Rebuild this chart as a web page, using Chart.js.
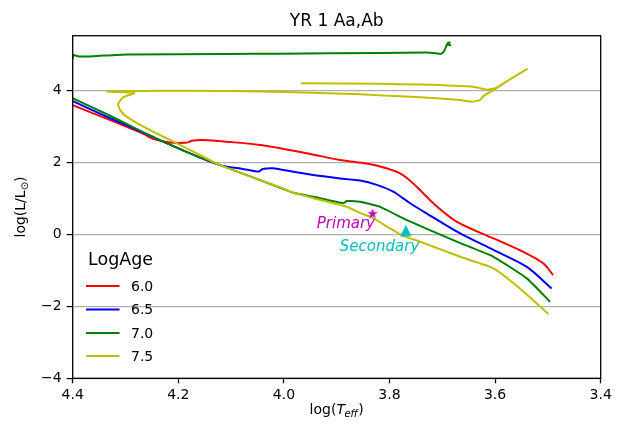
<!DOCTYPE html>
<html>
<head>
<meta charset="utf-8">
<script src="https://cdn.jsdelivr.net/npm/chart.js@4.4.1/dist/chart.umd.min.js"></script>
<style>
body { margin: 0; background: #fff; }
#wrap { width: 630px; height: 427px; }
</style>
</head>
<body>
<div id="wrap"><canvas id="hr" width="630" height="427"></canvas></div>
<script>
// isochrones, log Teff / log L
var ages = ['6.0', '6.5', '7.0', '7.5'];
var colors = ['#ff0000', '#0000ff', '#008000', '#bfbf00'];
var smooth = [0.3, 0.3, 0.15, 0.15];

var teff60 = [3.490, 3.509, 3.547, 3.603, 3.673, 3.717, 3.755, 3.780, 3.818, 3.856, 3.894, 3.950, 4.007, 4.045, 4.100, 4.153, 4.175, 4.180, 4.187, 4.216, 4.248, 4.266, 4.329, 4.400, 4.420];
var lum60  = [-1.13, -0.80, -0.48, -0.11, 0.36, 0.87, 1.42, 1.70, 1.89, 2.00, 2.07, 2.24, 2.40, 2.49, 2.57, 2.63, 2.61, 2.57, 2.55, 2.56, 2.66, 2.80, 3.18, 3.60, 3.72];

var teff65 = [3.493, 3.540, 3.603, 3.666, 3.730, 3.761, 3.793, 3.824, 3.856, 3.894, 3.950, 4.007, 4.021, 4.040, 4.048, 4.080, 4.121, 4.180, 4.234, 4.266, 4.330, 4.400, 4.420];
var lum65  = [-1.50, -0.90, -0.43, 0.03, 0.59, 0.87, 1.19, 1.38, 1.50, 1.56, 1.67, 1.81, 1.84, 1.82, 1.75, 1.83, 1.93, 2.27, 2.62, 2.83, 3.24, 3.71, 3.84];

var teff70 = [3.496, 3.540, 3.603, 3.666, 3.717, 3.767, 3.818, 3.856, 3.881, 3.887, 3.944, 3.982, 4.007, 4.050, 4.121, 4.180, 4.234, 4.266, 4.330, 4.400, 4.420, 4.500, 4.410, 4.400, 4.399, 4.386, 4.361, 4.298, 4.108, 4.007, 3.818, 3.730, 3.712, 3.704, 3.699, 3.695, 3.692, 3.690, 3.686, 3.690, 3.683];
var lum70  = [-1.87, -1.22, -0.62, -0.24, 0.08, 0.40, 0.77, 0.91, 0.93, 0.87, 1.05, 1.16, 1.30, 1.54, 1.93, 2.27, 2.62, 2.84, 3.31, 3.79, 3.92, 4.40, 4.82, 4.90, 4.99, 4.95, 4.96, 5.01, 5.02, 5.03, 5.05, 5.06, 5.04, 5.02, 5.06, 5.15, 5.26, 5.32, 5.34, 5.29, 5.26];

var teff75 = [3.499, 3.553, 3.603, 3.666, 3.742, 3.774, 3.799, 3.830, 3.856, 3.881, 3.944, 3.982, 4.007, 4.121, 4.180, 4.216, 4.266, 4.300, 4.310, 4.314, 4.307, 4.298, 4.288, 4.283, 4.300, 4.336, 4.300, 4.235, 4.108, 3.980, 3.856, 3.818, 3.742, 3.666, 3.644, 3.629, 3.622, 3.603, 3.578, 3.540, 3.575, 3.598, 3.616, 3.641, 3.742, 3.818, 3.968];
var lum75  = [-2.21, -1.50, -0.94, -0.62, -0.20, -0.04, 0.17, 0.45, 0.60, 0.77, 1.01, 1.16, 1.31, 1.93, 2.37, 2.63, 3.00, 3.30, 3.46, 3.62, 3.79, 3.86, 3.90, 3.94, 3.96, 3.97, 3.985, 4.00, 3.99, 3.96, 3.90, 3.87, 3.82, 3.74, 3.69, 3.74, 3.85, 4.02, 4.26, 4.60, 4.29, 4.08, 4.03, 4.11, 4.17, 4.19, 4.21];

var teffs = [teff60, teff65, teff70, teff75];
var lums = [lum60, lum65, lum70, lum75];

// the two stars
var starNames = ['Primary', 'Secondary'];
var starTeff = [3.832, 3.769];
var starLum = [0.59, 0.11];
var starColors = ['#bf00bf', '#00bfbf'];
var labelTeff = [3.8275, 3.7436];
var labelLum = [0.18, -0.45];

var xTicks = [4.4, 4.2, 4.0, 3.8, 3.6, 3.4];
var yTicks = [-4, -2, 0, 2, 4];

var FONT = "'DejaVu Sans', sans-serif";

function makeMarker(shape, color) {
    var c = document.createElement('canvas');
    c.width = 16; c.height = 16;
    var g = c.getContext('2d');
    g.fillStyle = color;
    g.beginPath();
    if (shape == 'star') {
        for (var i = 0; i < 10; i++) {
            var r = i % 2 == 0 ? 5.6 : 5.6 * 0.382;
            var a = -Math.PI / 2 + i * Math.PI / 5;
            var px = 8 + r * Math.cos(a), py = 8.5 + r * Math.sin(a);
            if (i == 0) g.moveTo(px, py); else g.lineTo(px, py);
        }
    } else {
        g.moveTo(8, 2.2);
        g.lineTo(2.3, 13.8);
        g.lineTo(13.7, 13.8);
    }
    g.closePath();
    g.fill();
    return c;
}
var markers = [makeMarker('star', starColors[0]), makeMarker('tri', starColors[1])];

var datasets = [];
for (var i = 0; i < ages.length; i++) {
    datasets.push({
        label: ages[i],
        data: teffs[i].map(function (t, j) { return {x: t, y: lums[this][j]}; }, i),
        borderColor: colors[i],
        backgroundColor: colors[i],
        borderWidth: 2,
        pointRadius: 0,
        showLine: true,
        tension: smooth[i],
        order: ages.length - i
    });
}
for (var k = 0; k < starNames.length; k++) {
    datasets.push({
        label: starNames[k],
        data: [{x: starTeff[k], y: starLum[k]}],
        pointStyle: markers[k],
        pointRadius: 6,
        showLine: false,
        order: 0
    });
}

var extras = {
    id: 'extras',
    afterDatasetsDraw: function (chart) {
        var ctx = chart.ctx, a = chart.chartArea;
        var xs = chart.scales.x, ys = chart.scales.y;
        ctx.save();
        // frame
        ctx.strokeStyle = '#000';
        ctx.lineWidth = 1.3;
        ctx.strokeRect(a.left, a.top, a.right - a.left, a.bottom - a.top);

        // star labels
        ctx.font = 'italic 15px ' + FONT;
        ctx.textAlign = 'right';
        ctx.textBaseline = 'alphabetic';
        for (var k = 0; k < starNames.length; k++) {
            ctx.fillStyle = starColors[k];
            ctx.fillText(starNames[k], xs.getPixelForValue(labelTeff[k]), ys.getPixelForValue(labelLum[k]));
        }

        // legend
        ctx.fillStyle = '#000';
        ctx.textAlign = 'left';
        ctx.font = '17.5px ' + FONT;
        ctx.fillText('LogAge', 88, 265);
        ctx.font = '14px ' + FONT;
        ctx.textBaseline = 'middle';
        var rows = [286, 309.5, 333, 356];
        for (var i = 0; i < ages.length; i++) {
            ctx.strokeStyle = colors[i];
            ctx.lineWidth = 2;
            ctx.beginPath();
            ctx.moveTo(86, rows[i]);
            ctx.lineTo(119.5, rows[i]);
            ctx.stroke();
            ctx.fillStyle = '#000';
            ctx.fillText(ages[i], 131, rows[i] + 1);
        }

        // title
        var cx = (a.left + a.right) / 2;
        ctx.textAlign = 'center';
        ctx.textBaseline = 'alphabetic';
        ctx.font = '17px ' + FONT;
        ctx.fillText('YR 1 Aa,Ab', cx, 26);

        // x label: log(T_eff)
        var p1 = 'log(', p2 = 'T', p3 = 'eff', p4 = ')';
        ctx.font = '14px ' + FONT;
        var w1 = ctx.measureText(p1).width, w4 = ctx.measureText(p4).width;
        ctx.font = 'italic 14px ' + FONT;
        var w2 = ctx.measureText(p2).width;
        ctx.font = 'italic 10px ' + FONT;
        var w3 = ctx.measureText(p3).width;
        var x0 = cx - (w1 + w2 + w3 + w4) / 2, by = 414;
        ctx.textAlign = 'left';
        ctx.font = '14px ' + FONT;
        ctx.fillText(p1, x0, by);
        ctx.font = 'italic 14px ' + FONT;
        ctx.fillText(p2, x0 + w1, by);
        ctx.font = 'italic 10px ' + FONT;
        ctx.fillText(p3, x0 + w1 + w2 - 0.5, by + 3);
        ctx.font = '14px ' + FONT;
        ctx.fillText(p4, x0 + w1 + w2 + w3, by);

        // y label: log(L/L_sun)
        ctx.translate(25, (a.top + a.bottom) / 2);
        ctx.rotate(-Math.PI / 2);
        var q1 = 'log(L/L', q2 = '\u2299', q3 = ')';
        ctx.font = '14px ' + FONT;
        var v1 = ctx.measureText(q1).width, v3 = ctx.measureText(q3).width;
        ctx.font = '10px ' + FONT;
        var v2 = ctx.measureText(q2).width;
        var y0 = -(v1 + v2 + v3) / 2;
        ctx.font = '14px ' + FONT;
        ctx.fillText(q1, y0, 0);
        ctx.font = '10px ' + FONT;
        ctx.fillText(q2, y0 + v1, 3);
        ctx.font = '14px ' + FONT;
        ctx.fillText(q3, y0 + v1 + v2, 0);
        ctx.restore();
    }
};

var ctx = document.getElementById('hr').getContext('2d');
var hrChart = new Chart(ctx, {
    type: 'scatter',
    data: { datasets: datasets },
    options: {
        responsive: false,
        animation: false,
        events: [],
        layout: { padding: { top: 35.7, right: 29.3, left: 0, bottom: 0 } },
        plugins: { legend: { display: false }, tooltip: { enabled: false } },
        scales: {
            x: {
                type: 'linear',
                min: 3.4,
                max: 4.4,
                reverse: true,
                afterFit: function (s) { s.height = 427 - 378.3; },
                afterBuildTicks: function (s) { s.ticks = xTicks.map(function (v) { return {value: v}; }); },
                grid: { drawOnChartArea: false, drawTicks: true, tickLength: 5, tickColor: '#000', tickWidth: 1.3 },
                border: { display: false },
                ticks: {
                    color: '#000',
                    padding: 4,
                    maxRotation: 0,
                    font: { family: FONT, size: 14 },
                    callback: function (v) { return v.toFixed(1); }
                }
            },
            y: {
                type: 'linear',
                min: -4,
                max: 5.53,
                afterFit: function (s) { s.width = 72.7; },
                afterBuildTicks: function (s) { s.ticks = yTicks.map(function (v) { return {value: v}; }); },
                grid: { color: '#b0b0b0', lineWidth: 1.2, drawTicks: true, tickLength: 6, tickColor: '#000', tickWidth: 1.3 },
                border: { display: false },
                ticks: {
                    color: '#000',
                    padding: 5,
                    font: { family: FONT, size: 14 },
                    callback: function (v) { return String(v).replace('-', '\u2212'); }
                }
            }
        }
    },
    plugins: [extras]
});
</script>
</body>
</html>
